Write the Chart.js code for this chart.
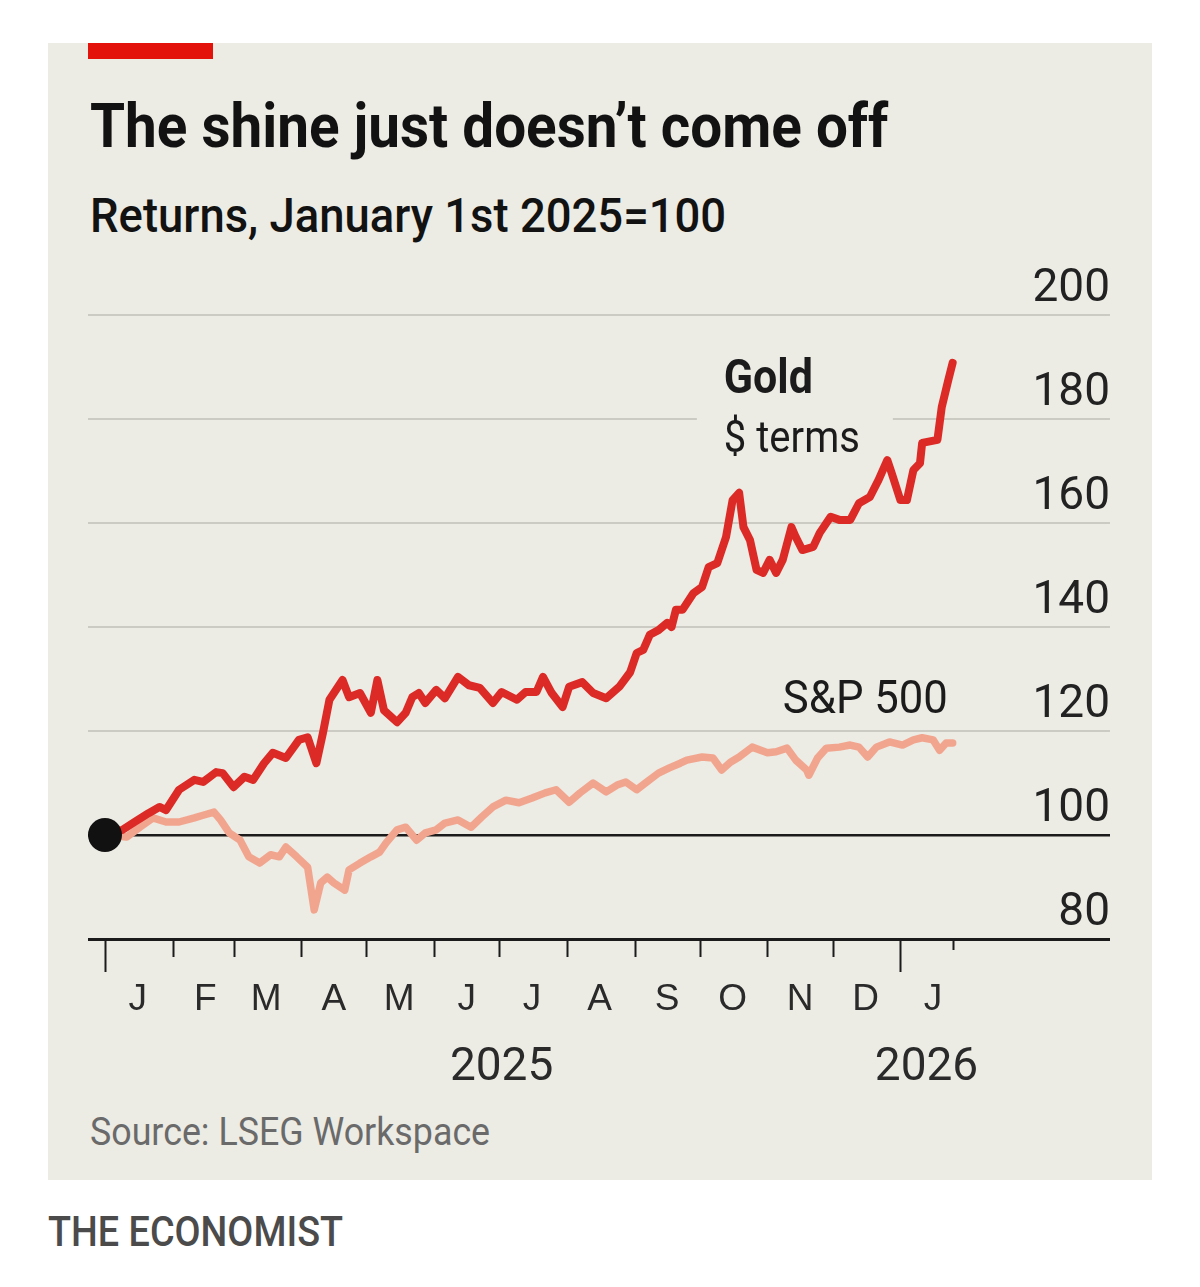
<!DOCTYPE html>
<html>
<head>
<meta charset="utf-8">
<script src="https://cdn.jsdelivr.net/npm/chart.js@4.4.1/dist/chart.umd.min.js"></script>
<style>
  html, body { margin: 0; padding: 0; background: #fff; }
  body { width: 1200px; height: 1287px; position: relative; overflow: hidden; font-family: Roboto, "Liberation Sans", sans-serif; }
  #panel { position: absolute; left: 48px; top: 43px; width: 1104px; height: 1137px; background: #ECEBE4; }
  #redbar { position: absolute; left: 88px; top: 43px; width: 125px; height: 16px; background: #E3120B; }
  .txt { position: absolute; white-space: nowrap; line-height: 1; transform-origin: 0 0; }
  #title { left: 90px; top: 95px; font-size: 62px; font-weight: 700; color: #121212; }
  #subtitle { left: 90px; top: 191px; font-size: 49px; font-weight: 500; color: #121212; }
  #source { left: 90px; top: 1113px; font-size: 39px; color: #6a6a6a; }
  #brand { left: 48px; top: 1211px; font-size: 42px; font-weight: 500; color: #4b4b4b; }
  #chart { position: absolute; left: 0; top: 0; }
</style>
</head>
<body>
<div id="panel"></div>
<div id="redbar"></div>
<div class="txt" id="title" data-w="798">The shine just doesn’t come off</div>
<div class="txt" id="subtitle" data-w="636">Returns, January 1st 2025=100</div>
<div class="txt" id="source" data-w="400">Source: LSEG Workspace</div>
<div class="txt" id="brand" data-w="295">THE ECONOMIST</div>
<canvas id="chart" width="1200" height="1287"></canvas>
<script>
// jours depuis le 1er janvier 2025
const goldDays = [0,8,14,20,25,28,34,41,45,51,54,59,64,68,73,77,83,89,93,97,
  100,103,109,112,117,122,125,128,134,138,141,144,147,152,156,162,167,172,178,182,
  189,193,198,201,205,210,213,219,224,230,236,241,244,247,250,254,258,260,262,265,
  270,274,277,281,285,288,291,293,296,299,302,305,308,311,315,317,320,325,328,333,
  337,342,346,351,355,359,361,365,368,371,374,375,382,384,387,389];
const goldValues = [100,101.0,102.6,104.2,105.4,104.8,108.7,110.6,110.2,112.1,
  111.9,109.2,111.2,110.6,113.8,115.8,114.8,118.3,118.8,113.8,
  119.6,126.0,129.8,126.5,127.3,123.5,129.8,124.0,121.7,123.5,
  126.5,127.3,125.4,127.9,126.3,130.4,128.8,128.3,125.4,127.5,
  126.0,127.5,127.5,130.4,127.3,124.6,128.5,129.4,127.3,126.3,
  128.5,131.3,135.0,135.6,138.5,139.4,140.8,140.0,143.3,143.3,
  146.5,147.7,151.5,152.3,157.3,164.4,165.8,159.2,156.7,151.0,
  150.4,152.9,150.4,152.9,159.2,157.3,154.8,155.4,158.1,161.2,
  160.6,160.6,163.8,165.0,168.3,172.1,169.6,164.4,164.4,170.2,
  171.5,175.4,176.0,182.3,187.5,190.8];

const spDays = [0,10,16,22,28,34,41,45,50,53,57,62,66,71,76,80,83,88,93,96,
  99,102,105,110,112,117,122,126,129,134,138,143,147,152,156,162,168,173,178,184,
  190,196,202,207,213,218,224,230,235,239,244,248,254,259,264,267,274,279,283,287,
  291,297,304,308,313,317,322,323,327,331,337,342,346,350,354,360,366,371,375,380,
  383,386,389];
const spValues = [100,99.6,101.5,103.3,102.5,102.5,103.3,103.8,104.4,102.9,
  100.4,99.0,95.8,94.6,96.2,95.8,97.7,95.8,93.8,85.6,
  90.8,91.9,90.8,89.4,93.3,94.6,95.8,96.7,98.5,101.0,
  101.5,99.0,100.4,101.0,102.3,102.9,101.5,103.5,105.4,106.7,
  106.2,107.1,108.1,108.7,106.3,108.1,110.0,108.3,109.6,110.2,
  108.7,110.0,111.9,112.9,113.8,114.4,115.0,114.8,112.5,114.0,
  115.0,116.9,115.8,116.0,116.7,114.4,112.5,111.5,114.8,116.7,
  116.9,117.3,116.9,115.0,116.9,117.9,117.3,118.3,118.7,118.3,
  116.3,117.7,117.7];

const monthLabels = ['J','F','M','A','M','J','J','A','S','O','N','D','J'];
const monthStarts = [0,31,59,90,120,151,181,212,243,273,304,334,365];
const yearLabels = ['2025','2026'];
const yearCenters = [182,377];
const yearStarts = [0,365];
const lastDay = 389;

const RED = '#DC2A26';
const SALMON = '#F2A58E';
const INK = '#1b1b1b';

// étire un texte HTML à la largeur voulue
function fitHtml() {
  document.querySelectorAll('.txt').forEach(el => {
    const w = +el.dataset.w;
    el.style.transform = 'scaleX(' + (w / el.offsetWidth) + ')';
  });
}

// même chose sur le canvas
function fitText(ctx, text, x, y, width, font, align) {
  ctx.save();
  ctx.font = font;
  const k = width / ctx.measureText(text).width;
  ctx.translate(x, y);
  ctx.scale(k, 1);
  ctx.textAlign = align || 'left';
  ctx.textBaseline = 'alphabetic';
  ctx.fillText(text, 0, 0);
  ctx.restore();
}

const econPlugin = {
  id: 'econ',
  beforeDatasetsDraw(chart) {
    const { ctx, scales: { x, y } } = chart;
    // étiquette "Gold" avec un cache qui coupe la grille
    const gx = x.getPixelForValue(284);
    const g180 = y.getPixelForValue(180);
    ctx.save();
    ctx.fillStyle = '#ECEBE4';
    ctx.fillRect(gx - 27, g180 - 6, 196, 12);
    ctx.fillStyle = INK;
    fitText(ctx, 'Gold', gx, y.getPixelForValue(185), 89, '700 48px Roboto');
    fitText(ctx, '$ terms', gx, y.getPixelForValue(173.6), 136, '400 44px Roboto');
    fitText(ctx, 'S&P 500', x.getPixelForValue(386.8), y.getPixelForValue(123.5), 165, '400 46px Roboto', 'right');
    ctx.restore();
  },
  afterDraw(chart) {
    const { ctx, scales: { x, y } } = chart;
    const base = y.getPixelForValue(80);
    ctx.save();
    ctx.strokeStyle = INK;
    ctx.lineWidth = 2;
    monthStarts.forEach(d => {
      const px = Math.round(x.getPixelForValue(d)) + 0.5;
      const len = yearStarts.includes(d) ? 33 : 18;
      ctx.beginPath();
      ctx.moveTo(px, base);
      ctx.lineTo(px, base + len);
      ctx.stroke();
    });
    // dernier point de données
    const lx = Math.round(x.getPixelForValue(lastDay)) + 0.5;
    ctx.beginPath();
    ctx.moveTo(lx, base);
    ctx.lineTo(lx, base + 11);
    ctx.stroke();

    ctx.fillStyle = '#2a2a2a';
    ctx.textAlign = 'center';
    ctx.textBaseline = 'alphabetic';
    ctx.font = '37px "Liberation Sans", Arial, sans-serif';
    monthLabels.forEach((m, i) => {
      ctx.fillText(m, x.getPixelForValue(monthStarts[i] + 15), base + 71);
    });
    ctx.font = '46px Roboto';
    yearLabels.forEach((t, i) => {
      ctx.fillText(t, x.getPixelForValue(yearCenters[i]), base + 141);
    });
    ctx.restore();
  }
};

function draw() {
  fitHtml();
  new Chart(document.getElementById('chart'), {
    type: 'line',
    data: {
      datasets: [
        {
          label: 'start',
          type: 'scatter',
          data: [{ x: 0, y: 100 }],
          pointRadius: 17,
          pointBackgroundColor: '#111',
          pointBorderWidth: 0
        },
        {
          label: 'Gold',
          data: goldDays.map((d, i) => ({ x: d, y: goldValues[i] })),
          borderColor: RED,
          borderWidth: 8,
          pointRadius: 0,
          tension: 0,
          borderJoinStyle: 'round',
          borderCapStyle: 'round'
        },
        {
          label: 'S&P 500',
          data: spDays.map((d, i) => ({ x: d, y: spValues[i] })),
          borderColor: SALMON,
          borderWidth: 7.5,
          pointRadius: 0,
          tension: 0,
          borderJoinStyle: 'round',
          borderCapStyle: 'round'
        }
      ]
    },
    options: {
      responsive: false,
      animation: false,
      devicePixelRatio: 1,
      layout: { padding: { left: 88, right: 90, top: 315, bottom: 348 } },
      plugins: { legend: { display: false }, tooltip: { enabled: false } },
      scales: {
        x: { type: 'linear', display: false, min: -7.8, max: 461.2 },
        y: {
          position: 'right',
          min: 80,
          max: 200,
          border: { display: false },
          grid: {
            drawTicks: false,
            color: c => (c.tick.value <= 100 ? INK : '#CBCAC3'),
            lineWidth: c => (c.tick.value === 80 ? 3 : c.tick.value === 100 ? 2.5 : 2)
          },
          ticks: {
            stepSize: 20,
            autoSkip: false,
            mirror: true,
            padding: 0,
            labelOffset: -26,
            color: '#222',
            font: { family: 'Roboto', size: 46 }
          }
        }
      }
    },
    plugins: [econPlugin]
  });
}

document.fonts.ready.then(draw);
</script>
</body>
</html>
